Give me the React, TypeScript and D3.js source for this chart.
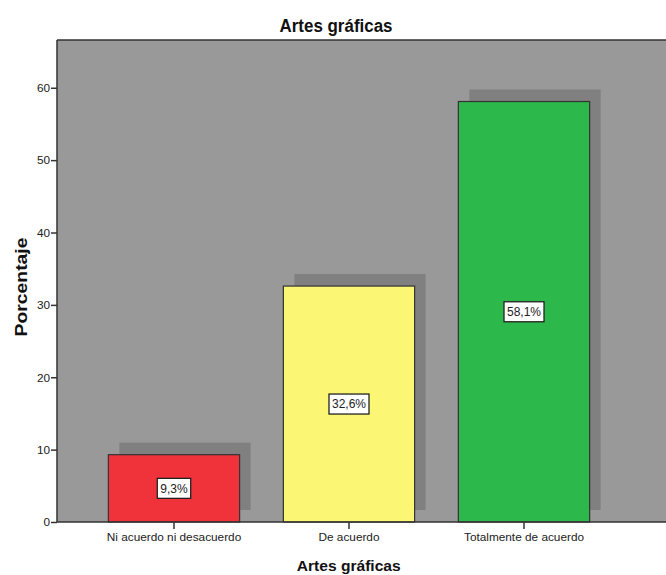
import { useEffect, useRef } from "react";
import * as d3 from "d3";

const WIDTH = 666;
const HEIGHT = 575;
const PLOT = { left: 57, top: 40, right: 641, bottom: 522 };

const categories = ["Ni acuerdo ni desacuerdo", "De acuerdo", "Totalmente de acuerdo"];
const percentages = [9.3, 32.6, 58.1];
const valueLabels = ["9,3%", "32,6%", "58,1%"];
const barColors = ["#f0323a", "#fbf774", "#2db84b"];
const yTicks = [0, 10, 20, 30, 40, 50, 60];

const FONT = "'Liberation Sans', Arial, sans-serif";
const SHADOW = 11;

export default function App() {
    const axesRef = useRef<SVGGElement | null>(null);

    const xScale = d3
        .scaleBand<string>()
        .domain(categories)
        .range([PLOT.left, PLOT.right])
        .paddingInner(0.25)
        .paddingOuter(0.2935);

    const yScale = d3.scaleLinear().domain([0, 66.6]).range([PLOT.bottom, PLOT.top]);

    useEffect(() => {
        const g = d3.select(axesRef.current);
        g.selectAll("*").remove();

        const yAxis = d3.axisLeft(yScale).tickValues(yTicks).tickSize(6).tickPadding(1);
        g.append("g")
            .attr("transform", `translate(${PLOT.left},0)`)
            .call(yAxis)
            .call((s) => s.select(".domain").remove());

        const xAxis = d3.axisBottom(xScale).tickSize(7).tickPadding(4);
        g.append("g")
            .attr("transform", `translate(0,${PLOT.bottom})`)
            .call(xAxis)
            .call((s) => s.select(".domain").remove());

        g.selectAll(".tick text")
            .attr("font-family", FONT)
            .attr("font-size", 11.8)
            .attr("fill", "#222");
        g.selectAll(".tick line").attr("stroke", "#333").attr("stroke-width", 1.5);
    }, []);

    const bw = xScale.bandwidth();

    return (
        <svg
            width={WIDTH}
            height={HEIGHT}
            style={{ position: "absolute", left: 0, top: 0, background: "#fff" }}
        >
            <rect
                x={PLOT.left}
                y={PLOT.top}
                width={WIDTH - PLOT.left}
                height={PLOT.bottom - PLOT.top}
                fill="#999999"
            />
            {categories.map((c, i) => (
                <rect
                    key={`s_${c}`}
                    x={(xScale(c) ?? 0) + SHADOW}
                    y={yScale(percentages[i]) - SHADOW - 1}
                    width={bw}
                    height={PLOT.bottom - yScale(percentages[i])}
                    fill="#808080"
                />
            ))}
            {categories.map((c, i) => (
                <rect
                    key={`b_${c}`}
                    x={xScale(c)}
                    y={yScale(percentages[i])}
                    width={bw}
                    height={PLOT.bottom - yScale(percentages[i])}
                    fill={barColors[i]}
                    stroke="#333"
                    strokeWidth={1.2}
                />
            ))}
            {categories.map((c, i) => {
                const cx = (xScale(c) ?? 0) + bw / 2;
                const cy = yScale(percentages[i] / 2);
                const w = valueLabels[i].length * 6.6 + 7;
                return (
                    <g key={`l_${c}`}>
                        <rect
                            x={cx - w / 2}
                            y={cy - 10}
                            width={w}
                            height={20}
                            fill="#fff"
                            stroke="#222"
                            strokeWidth={1.3}
                        />
                        <text
                            x={cx}
                            y={cy + 4.3}
                            textAnchor="middle"
                            fontFamily={FONT}
                            fontSize={12}
                            fill="#222"
                        >
                            {valueLabels[i]}
                        </text>
                    </g>
                );
            })}
            <line x1={PLOT.left} x2={PLOT.left} y1={PLOT.top} y2={PLOT.bottom} stroke="#333" strokeWidth={1.5} />
            <line x1={PLOT.left} x2={WIDTH} y1={PLOT.top} y2={PLOT.top} stroke="#333" strokeWidth={1.5} />
            <line x1={PLOT.left} x2={WIDTH} y1={PLOT.bottom} y2={PLOT.bottom} stroke="#333" strokeWidth={1.5} />
            <g ref={axesRef} />
            <text
                x={336}
                y={32}
                textAnchor="middle"
                fontFamily={FONT}
                fontWeight="bold"
                fontSize={17.5}
                textLength={113}
                lengthAdjust="spacingAndGlyphs"
                fill="#111"
            >
                Artes gráficas
            </text>
            <text
                x={348.7}
                y={571}
                textAnchor="middle"
                fontFamily={FONT}
                fontWeight="bold"
                fontSize={15.5}
                textLength={104}
                lengthAdjust="spacingAndGlyphs"
                fill="#111"
            >
                Artes gráficas
            </text>
            <text
                transform={`translate(27,287) rotate(-90)`}
                textAnchor="middle"
                fontFamily={FONT}
                fontWeight="bold"
                fontSize={17}
                textLength={99}
                lengthAdjust="spacingAndGlyphs"
                fill="#111"
            >
                Porcentaje
            </text>
        </svg>
    );
}
